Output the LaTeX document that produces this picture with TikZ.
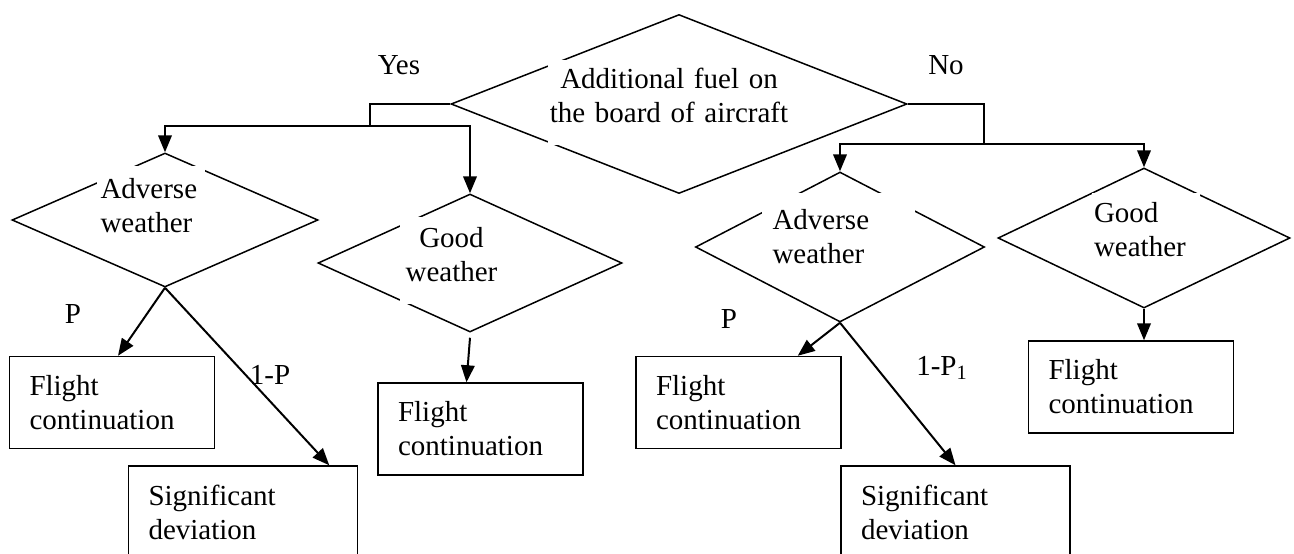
\documentclass[tikz,border=0pt]{standalone}
\usepackage{fontspec}
\setmainfont{Liberation Serif}
\usetikzlibrary{arrows.meta,shapes.geometric,calc}
\newcommand{\lowpad}[1]{\rule[-#1]{0pt}{#1}}
\tikzset{
  >={Triangle[length=8.5pt,width=6.8pt]},
  dec/.style={draw,shape=diamond,inner sep=0pt,line width=0.75pt},
  res/.style={draw,rectangle,line width=0.75pt,inner xsep=10pt,inner ysep=0pt,minimum height=46pt,align=left},
  inbox/.style={fill=white,inner ysep=0pt},
  lab/.style={inner sep=0pt},
  arr/.style={->,line width=1pt},
  br/.style={line width=0.6pt},
}
\begin{document}
\begin{tikzpicture}[x=0.5pt,y=-0.5pt,every node/.style={font=\fontsize{14.5}{17}\selectfont}]
\useasboundingbox (0,0) rectangle (1294,553);
\node[dec,minimum width=228pt,minimum height=89.5pt] (M) at (679,104) {};
\node[dec,minimum width=153pt,minimum height=67pt] (A1) at (165,220) {};
\node[dec,minimum width=152pt,minimum height=69pt] (G1) at (470,263) {};
\node[dec,minimum width=144.5pt,minimum height=75pt] (A2) at (840,247) {};
\node[dec,minimum width=146pt,minimum height=70pt] (G2) at (1144,238) {};
\node[inbox,text width=120pt,inner xsep=0.5pt,minimum height=42.5pt,align=center] (tM) at (669,102.5) {Additional fuel on\\the board of aircraft\lowpad{7.5pt}};
\node[inbox,text width=50.5pt,inner xsep=1.75pt,minimum height=39.5pt,align=left] (tA1) at (151,205.5) {Adverse\\weather};
\node[inbox,text width=47.5pt,inner xsep=2pt,minimum height=43.5pt,align=center] (tG1) at (451.5,260.5) {Good\\weather\lowpad{6pt}};
\node[inbox,text width=66pt,inner xsep=5.25pt,minimum height=43.5pt,align=left] (tA2) at (838.5,236.5) {Adverse\\weather};
\node[inbox,text width=52pt,inner xsep=1pt,minimum height=36.5pt,align=left] (tG2) at (1146,229.5) {Good\\weather};
\foreach \n/\x/\y in {B1/112/402.5,B2/480.5/429,B3/738.5/402.5,B4/1131/387}
  \node[res,text width=82.5pt] (\n) at (\x,\y) {Flight\\continuation};
\foreach \n/\x in {S1/243,S2/955.5}
  \node[res,text width=94.5pt] (\n) at (\x,512) {Significant\\deviation};
\node[lab] (yes) at (399,65) {Yes};
\node[lab] (no) at (946,65) {No};
\node[lab] (pA) at (73,314) {P};
\node[lab] (qA) at (270,375) {1-P};
\node[lab] (pB) at (729,319) {P};
\node[lab] (qB) at (942,368) {1-P\textsubscript{1}};
\coordinate (yJ) at (370,126);
\coordinate (nJ) at (984,144);
\draw[br] (M.west) -| (yJ);
\draw[arr] (yJ) -| (A1.north);
\draw[arr] (yJ) -| (G1.north);
\draw[br] (M.east) -| (nJ);
\draw[arr] (nJ) -| (A2.north);
\draw[arr] (nJ) -| (G2.north);
\draw[arr] (A1.south) -- ([xshift=3pt]B1.north);
\draw[arr] (A1.south) -- ([xshift=-14.5pt]S1.north east);
\draw[arr] ([yshift=-2.5pt]G1.south) -- ([xshift=-7pt]B2.north);
\draw[arr] (A2.south) -- ([xshift=-22pt]B3.north east);
\draw[arr] (A2.south) -- (S2.north);
\draw[arr] (G2.south) -- (G2.south |- B4.north);
\end{tikzpicture}
\end{document}
